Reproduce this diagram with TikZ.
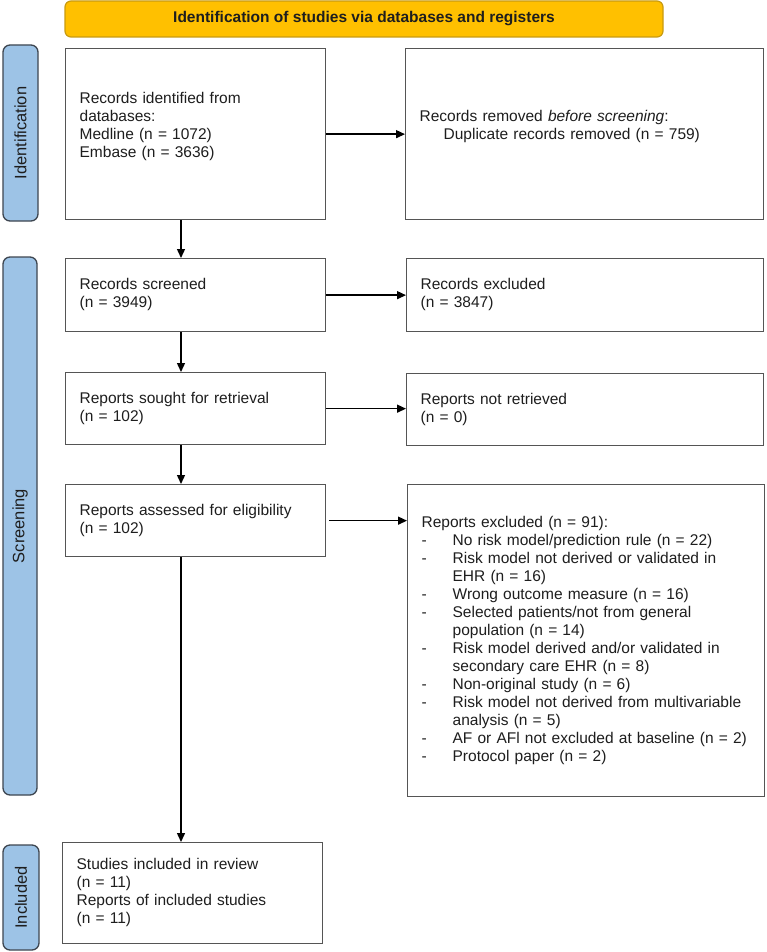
\documentclass[tikz,border=0pt]{standalone}
\usepackage{fontspec}
\setmainfont{Liberation Sans}
\usetikzlibrary{arrows.meta,calc}
\definecolor{bannerfill}{HTML}{FFC000}
\definecolor{bannerdraw}{HTML}{C89B10}
\definecolor{barfill}{HTML}{9DC3E6}
\definecolor{bardraw}{HTML}{3E4650}
\definecolor{boxdraw}{HTML}{555555}
\definecolor{txt}{HTML}{1E1E1E}
\begin{document}
\begin{tikzpicture}[x=1pt,y=-1pt,
  every node/.style={font=\fontsize{15.5}{18}\selectfont, text=txt},
  box/.style={draw=boxdraw,line width=1.3pt,fill=white,inner xsep=14pt,inner ysep=0pt,anchor=north west},
  bar/.style={draw=bardraw,fill=barfill,line width=1.3pt,rounded corners=7pt,rotate=90,inner sep=0pt,font=\fontsize{16.5}{18}\selectfont},
  flow/.style={line width=1.4pt,-{Triangle[length=9pt,width=8pt]}}]

\useasboundingbox (0,0) rectangle (767,952);
\fill[white] (0,0) rectangle (767,952);

\node[draw=bannerdraw,fill=bannerfill,line width=1.2pt,rounded corners=6pt,minimum width=598pt,minimum height=36pt,font=\bfseries\fontsize{15.5}{18}\selectfont] (banner) at (364,19) {Identification of studies via databases and registers};

\node[bar,minimum width=176pt,minimum height=35pt] (idbar) at (20.5,133) {Identification};
\node[bar,minimum width=538pt,minimum height=34pt] (scbar) at (20,526) {Screening};
\node[bar,minimum width=105pt,minimum height=36pt] (inbar) at (21,897.5) {Included};

\node[box,text width=232pt,minimum height=171pt] (rec) at (65,48) {\begin{tabular}{@{}l@{}}Records identified from\\databases:\\Medline (n = 1072)\\Embase (n = 3636)\\[-4pt]\mbox{}\end{tabular}};
\node[box,text width=330pt,minimum height=171pt] (rem) at (405,48) {\begin{tabular}{@{}l@{}}Records removed \textit{before screening}:\\\hspace*{24pt}Duplicate records removed (n = 759)\\[-4pt]\mbox{}\end{tabular}};

\node[box,text width=232pt,minimum height=73pt] (scr) at (65,258) {\begin{tabular}{@{}l@{}}Records screened\\(n = 3949)\end{tabular}};
\node[box,text width=329pt,minimum height=73pt] (exc) at (406,258) {\begin{tabular}{@{}l@{}}Records excluded\\(n = 3847)\end{tabular}};

\node[box,text width=232pt,minimum height=72pt] (sought) at (65,372) {\begin{tabular}{@{}l@{}}Reports sought for retrieval\\(n = 102)\end{tabular}};
\node[box,text width=329pt,minimum height=72pt] (notret) at (406,373) {\begin{tabular}{@{}l@{}}Reports not retrieved\\(n = 0)\end{tabular}};

\node[box,text width=232pt,minimum height=72pt] (ass) at (65,484) {\begin{tabular}{@{}l@{}}Reports assessed for eligibility\\(n = 102)\end{tabular}};
\node[box,text width=329pt,minimum height=312pt] (repexc) at (407,484) {\begin{tabular}{@{}l@{}}Reports excluded (n = 91):\\
\makebox[31pt][l]{-}No risk model/prediction rule (n = 22)\\
\makebox[31pt][l]{-}Risk model not derived or validated in\\
\hspace*{31pt}EHR (n = 16)\\
\makebox[31pt][l]{-}Wrong outcome measure (n = 16)\\
\makebox[31pt][l]{-}Selected patients/not from general\\
\hspace*{31pt}population (n = 14)\\
\makebox[31pt][l]{-}Risk model derived and/or validated in\\
\hspace*{31pt}secondary care EHR (n = 8)\\
\makebox[31pt][l]{-}Non-original study (n = 6)\\
\makebox[31pt][l]{-}Risk model not derived from multivariable\\
\hspace*{31pt}analysis (n = 5)\\
\makebox[31pt][l]{-}AF or AFl not excluded at baseline (n = 2)\\
\makebox[31pt][l]{-}Protocol paper (n = 2)\end{tabular}};

\node[box,text width=232pt,minimum height=101pt] (incl) at (62,842) {\begin{tabular}{@{}l@{}}Studies included in review\\(n = 11)\\Reports of included studies\\(n = 11)\end{tabular}};

\coordinate (vx) at (181,0);
\draw[flow] (rec.south -| vx) -- (scr.north -| vx);
\draw[flow] (scr.south -| vx) -- (sought.north -| vx);
\draw[flow] (sought.south -| vx) -- (ass.north -| vx);
\draw[flow] (ass.south -| vx) -- (incl.north -| vx);

\draw[flow] (rec.east) -- (rec.east -| rem.west);
\draw[flow] (scr.east) -- (scr.east -| exc.west);
\draw[flow] (sought.east) -- (sought.east -| notret.west);
\draw[flow] ([xshift=3pt]ass.east) -- (ass.east -| repexc.west);
\end{tikzpicture}
\end{document}
